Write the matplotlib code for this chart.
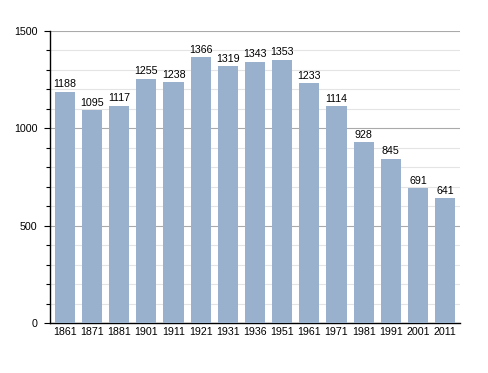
import matplotlib
matplotlib.use("Agg")
import matplotlib.pyplot as plt
from matplotlib.ticker import MultipleLocator

years = ["1861", "1871", "1881", "1901", "1911", "1921", "1931", "1936",
         "1951", "1961", "1971", "1981", "1991", "2001", "2011"]
population = [1188, 1095, 1117, 1255, 1238, 1366, 1319, 1343,
              1353, 1233, 1114, 928, 845, 691, 641]

plt.rcParams['font.family'] = ['Liberation Sans', 'DejaVu Sans']

fig = plt.figure(figsize=(4.88, 3.73), dpi=100)
ax = fig.add_axes([50 / 488, 50 / 373, 410 / 488, 292 / 373])

x = range(len(years))
bars = ax.bar(x, population, width=0.74, color='#99b1cd', zorder=3)

# Labels above each bar
for bar, v in zip(bars, population):
    ax.text(bar.get_x() + bar.get_width() / 2, v + 12, str(v),
            ha='center', va='bottom', fontsize=7.7, zorder=4)

ax.set_xlim(-0.55, len(years) - 0.45)
ax.set_ylim(0, 1500)
ax.set_xticks(list(x))
ax.set_xticklabels(years, fontsize=7.7)
ax.tick_params(axis='x', length=0, pad=3)

ax.yaxis.set_major_locator(MultipleLocator(500))
ax.yaxis.set_minor_locator(MultipleLocator(100))
ax.tick_params(axis='y', which='major', labelsize=7.7, length=4, width=0.8, pad=5)
ax.tick_params(axis='y', which='minor', length=3, width=0.8)

ax.grid(axis='y', which='major', color='#aaaaaa', linewidth=0.8, zorder=0)
ax.grid(axis='y', which='minor', color='#e4e4e4', linewidth=0.8, zorder=0)

ax.spines['top'].set_visible(False)
ax.spines['right'].set_visible(False)
ax.spines['left'].set_linewidth(1)
ax.spines['bottom'].set_linewidth(1)

plt.savefig("out.png", dpi=100)
